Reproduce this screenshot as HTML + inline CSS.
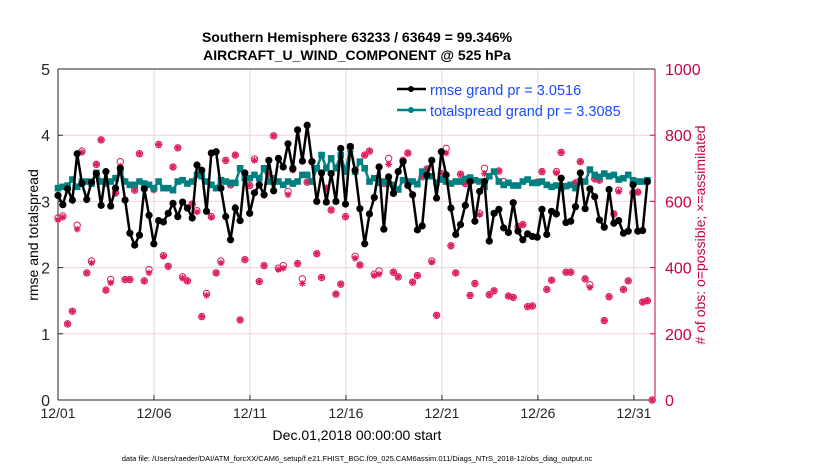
<!DOCTYPE html>
<html><head><meta charset="utf-8"><style>
body{margin:0;background:#fff;}
svg{display:block;font-family:"Liberation Sans",sans-serif;}
</style></head><body>
<svg id="chart" width="830" height="470" viewBox="0 0 830 470">
<text x="357" y="42" text-anchor="middle" font-size="14" font-weight="bold">Southern Hemisphere 63233 / 63649 = 99.346%</text>
<text x="357" y="60" text-anchor="middle" font-size="14" font-weight="bold">AIRCRAFT_U_WIND_COMPONENT @ 525 hPa</text>
<g id="grid"></g>
<g id="axes"></g>
<g id="marks"></g>
<text x="0" y="0" transform="translate(38,235) rotate(-90)" text-anchor="middle" font-size="14">rmse and totalspread</text>
<text x="0" y="0" transform="translate(705,235) rotate(-90)" text-anchor="middle" font-size="14" fill="#c8004b"># of obs: o=possible; ×=assimilated</text>
<text x="357" y="440" text-anchor="middle" font-size="14">Dec.01,2018 00:00:00 start</text>
<text x="357" y="461" text-anchor="middle" font-size="7.5">data file: /Users/raeder/DAI/ATM_forcXX/CAM6_setup/f.e21.FHIST_BGC.f09_025.CAM6assim.011/Diags_NTrS_2018-12/obs_diag_output.nc</text>
<g>
<line x1="397" y1="89" x2="426" y2="89" stroke="#000" stroke-width="2.5"/>
<circle cx="411" cy="89" r="3" fill="#000"/>
<text x="430" y="95" font-size="14.5" fill="#1a4bff">rmse grand pr = 3.0516</text>
<line x1="397" y1="110" x2="426" y2="110" stroke="#008080" stroke-width="2.5"/>
<circle cx="411" cy="110" r="3" fill="#008080"/>
<text x="430" y="116" font-size="14.5" fill="#1a4bff">totalspread grand pr = 3.3085</text>
</g>
</svg>
<script>
const xTickLabels=["12/01","12/06","12/11","12/16","12/21","12/26","12/31"];
const xTickDays=[0,5,10,15,20,25,30];
const yTicksLeft=[0,1,2,3,4,5];
const yTicksRight=[0,200,400,600,800,1000];
const rmse=[3.09,2.95,3.19,3.02,3.72,3.27,3.03,3.29,3.42,2.94,3.45,2.93,3.2,3.5,3.02,2.52,2.34,2.49,3.19,2.79,2.36,2.71,2.69,2.82,2.97,2.77,2.99,2.9,2.75,3.55,3.47,2.85,3.73,3.75,3.2,2.77,2.42,2.9,2.71,3.43,2.82,3.13,3.25,3.1,3.62,3.16,3.65,3.52,3.87,3.49,4.08,3.61,4.15,3.6,3.0,3.43,2.99,3.42,3.0,3.8,
2.96,3.83,3.47,2.89,2.36,2.81,3.06,3.52,2.58,3.37,3.12,3.45,3.6,3.24,3.1,2.57,2.63,3.4,3.62,3.05,3.75,3.4,2.9,2.5,2.65,2.94,3.3,2.7,3.15,3.3,2.4,2.82,2.88,2.6,2.53,2.98,2.55,2.42,2.51,2.47,2.46,2.88,2.5,2.85,2.81,3.35,2.68,2.7,2.92,3.43,2.89,3.19,3.07,2.72,2.61,3.18,2.67,2.71,2.52,2.55,3.25,2.55,2.56,3.3];
const spread=[3.2,3.22,3.24,3.33,3.22,3.3,3.3,3.27,3.43,3.3,3.27,3.3,3.35,3.45,3.3,3.25,
3.25,3.3,3.27,3.25,3.2,3.3,3.2,3.2,3.17,3.3,3.32,3.27,3.3,3.4,3.38,3.3,3.25,3.2,3.32,3.3,
3.28,3.28,3.5,3.35,3.35,3.4,3.35,3.5,3.3,3.35,3.3,3.25,3.3,3.27,3.3,3.4,
3.4,3.3,3.5,3.7,3.5,3.65,3.5,3.7,3.45,3.82,3.45,3.6,
3.5,3.3,3.35,3.28,3.3,3.27,3.25,3.18,3.32,3.3,3.3,3.26,3.45,3.38,3.38,3.28,3.33,3.3,3.27,3.3,3.3,3.34,3.36,3.32,3.3,3.22,3.38,3.45,3.3,3.25,3.28,3.24,3.24,3.3,3.33,3.28,3.28,3.3,3.25,3.22,3.24,3.2,3.23,3.25,3.2,3.3,3.3,3.48,3.4,3.37,3.42,3.38,3.4,3.33,3.35,3.4,3.32,3.3,3.3,3.32];
const obsPossible=[2.75,2.78,1.15,1.34,2.64,3.76,1.92,2.1,3.56,3.93,1.66,1.82,3.13,3.6,1.82,1.82,3.17,3.72,1.8,1.97,3.19,3.86,2.18,2.02,3.52,3.81,1.86,1.8,2.96,2.86,1.26,1.61,2.77,1.92,2.1,3.62,3.25,3.7,1.21,2.12,3.24,3.64,1.79,2.03,3.43,3.99,1.99,2.03,3.15,3.5,2.06,1.83,3.29,3.6,2.21,1.85,3.2,2.87,1.6,1.75,
2.77,3.82,2.17,2.04,3.7,3.76,1.9,1.95,3.27,3.65,1.93,1.86,3.62,3.73,1.78,1.88,3.37,3.49,2.1,1.28,3.42,3.8,2.33,1.92,3.41,3.27,1.58,1.76,2.82,3.5,1.59,1.65,3.46,3.3,1.57,1.55,2.62,2.65,1.41,1.42,3.29,3.45,1.67,1.81,3.45,3.74,1.93,1.93,3.28,3.6,1.83,1.74,3.34,3.32,1.2,1.56,2.81,3.17,1.67,1.8,3.13,3.14,1.48,1.5,0].map(v=>v*200);
const obsAssim=[2.72,2.76,1.15,1.34,2.58,3.74,1.92,2.07,3.56,3.93,1.66,1.77,3.12,3.53,1.82,1.82,3.17,3.72,1.8,1.92,3.17,3.86,2.17,2.02,3.52,3.81,1.84,1.8,2.96,2.84,1.26,1.58,2.76,1.92,2.07,3.62,3.25,3.7,1.21,2.12,3.24,3.62,1.79,2.03,3.4,3.99,1.97,1.99,3.1,3.47,2.06,1.76,3.29,3.6,2.21,1.85,3.2,2.87,1.6,1.75,
2.77,3.75,2.14,2.04,3.7,3.76,1.88,1.9,3.27,3.56,1.93,1.86,3.62,3.73,1.78,1.88,3.37,3.49,2.08,1.28,3.42,3.73,2.33,1.92,3.41,3.27,1.58,1.76,2.8,3.42,1.59,1.65,3.46,3.25,1.57,1.55,2.62,2.65,1.41,1.42,3.29,3.45,1.67,1.81,3.43,3.74,1.93,1.93,3.28,3.6,1.83,1.7,3.34,3.32,1.2,1.56,2.81,3.15,1.67,1.8,3.13,3.14,1.48,1.5,0].map(v=>v*200);

const X0=58,X1=655,Y0=400,Y1=69,DMAX=31.1;
const xDay=d=>X0+d*(X1-X0)/DMAX;
const xIdx=(i)=>X0+i*((657-X0)/125);
const yL=v=>Y0-v*(Y0-Y1)/5;
const yR=v=>Y0-v*(Y0-Y1)/1000;
const NS="http://www.w3.org/2000/svg";
function mk(tag,attrs,parent){const e=document.createElementNS(NS,tag);for(const k in attrs)e.setAttribute(k,attrs[k]);parent.appendChild(e);return e;}
const grid=document.getElementById('grid'),axes=document.getElementById('axes'),marks=document.getElementById('marks');
mk('rect',{x:X0,y:Y1,width:X1-X0,height:Y0-Y1,fill:'#fff'},grid);
xTickDays.forEach((d,i)=>{
  const x=xDay(d);
  if(i>0){const g=mk('line',{x1:x,y1:Y1,x2:x,y2:Y0,stroke:'#d9d9d9','stroke-width':1},grid);
  
  }
  mk('line',{x1:x,y1:Y0,x2:x,y2:Y0-5,stroke:'#262626'},axes);
  const t=mk('text',{x:x,y:Y0+18,'text-anchor':'middle','font-size':14,fill:'#262626'},axes);
  t.textContent=xTickLabels[i];
  
  
});
yTicksLeft.forEach(v=>{
  const y=yL(v);
  if(v>0&&v<5){const g=mk('line',{x1:X0,y1:y,x2:X1,y2:y,stroke:'#f0d0dc','stroke-width':1},grid);
  
  }
  mk('line',{x1:X0,y1:y,x2:X0+5,y2:y,stroke:'#262626'},axes);
  const t=mk('text',{x:X0-8,y:y+6,'text-anchor':'end','font-size':16,fill:'#262626'},axes);
  t.textContent=v;
  
  
});
yTicksRight.forEach(v=>{
  const y=yR(v);
  mk('line',{x1:X1,y1:y,x2:X1-5,y2:y,stroke:'#c8004b'},axes);
  const t=mk('text',{x:X1+10,y:y+6,'font-size':16,fill:'#c8004b'},axes);
  t.textContent=v;
  
  
});
mk('line',{x1:X0,y1:Y0,x2:X0,y2:Y1,stroke:'#262626'},axes);
mk('line',{x1:X0,y1:Y0,x2:X1,y2:Y0,stroke:'#262626'},axes);
mk('line',{x1:X0,y1:Y1,x2:X1,y2:Y1,stroke:'#262626'},axes);
mk('line',{x1:X1,y1:Y0,x2:X1,y2:Y1,stroke:'#c8004b'},axes);

obsPossible.forEach((v,i)=>{
  const c=mk('circle',{cx:xIdx(i),cy:yR(v),r:3.2,fill:'none',stroke:'#dc1e5a','stroke-width':1},marks);
  
  
});
obsAssim.forEach((v,i)=>{
  const x=xIdx(i),y=yR(v),r=3.3;
  const p=mk('path',{d:`M${x-r} ${y}H${x+r}M${x} ${y-r}V${y+r}M${x-r*.7} ${y-r*.7}L${x+r*.7} ${y+r*.7}M${x-r*.7} ${y+r*.7}L${x+r*.7} ${y-r*.7}`,stroke:'#dc1e5a','stroke-width':1.3},marks);
  
  
});
const sp=mk('polyline',{points:spread.map((v,i)=>xIdx(i)+','+yL(v)).join(' '),fill:'none',stroke:'#008080','stroke-width':2.5},marks);


spread.forEach((v,i)=>{
  const r=mk('rect',{x:xIdx(i)-3.3,y:yL(v)-3.3,width:6.6,height:6.6,fill:'#008080'},marks);
  
  
});
const rl=mk('polyline',{points:rmse.map((v,i)=>xIdx(i)+','+yL(v)).join(' '),fill:'none',stroke:'#000','stroke-width':2.5},marks);


rmse.forEach((v,i)=>{
  const c=mk('circle',{cx:xIdx(i),cy:yL(v),r:3.6,fill:'#000'},marks);
  
  
});
</script>
</body></html>
